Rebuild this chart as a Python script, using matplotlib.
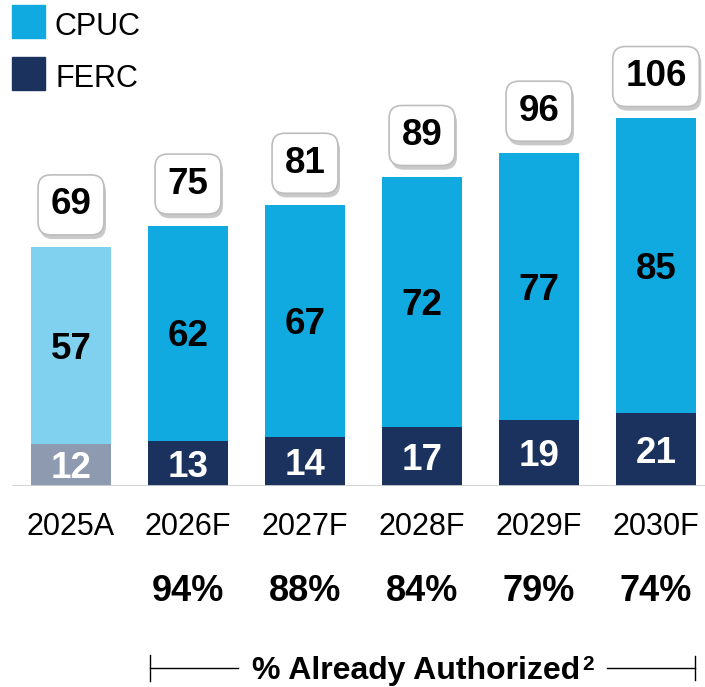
import matplotlib
matplotlib.use("Agg")
import matplotlib.pyplot as plt
import matplotlib.transforms as mtransforms
import matplotlib.patheffects as pe
from matplotlib.patches import Rectangle

plt.rcParams['font.family'] = ['Liberation Sans', 'DejaVu Sans']

years = ["2025A", "2026F", "2027F", "2028F", "2029F", "2030F"]
ferc = [12, 13, 14, 17, 19, 21]
cpuc = [57, 62, 67, 72, 77, 85]
totals = [69, 75, 81, 89, 96, 106]
authorized = ["", "94%", "88%", "84%", "79%", "74%"]

cpuc_colors = ["#80D1EF"] + ["#10A9E0"] * 5
ferc_colors = ["#8E9AB0"] + ["#1B325E"] * 5

W, H = 705, 687
PX = 100 / 72.0  # pixels per point


def cap_off(fs):
    # points from visual centre of digits/caps down to baseline
    return 0.358 * fs


fig = plt.figure(figsize=(W / 100, H / 100), dpi=100)
base_px = 486
ax = fig.add_axes([0, (H - base_px) / H, 1, base_px / H])
x = list(range(len(years)))
ax.set_xlim((0 - 71) / 117, (W - 71) / 117)
ax.set_ylim(0, base_px / 3.47)
ax.axis('off')

bw = 80 / 117
ax.bar(x, ferc, width=bw, color=ferc_colors, zorder=2)
ax.bar(x, cpuc, width=bw, bottom=ferc, color=cpuc_colors, zorder=2)
ax.axhline(0, xmin=13 / W, xmax=1, color="#D0D0D0", lw=2, zorder=3)

fs_in = 26.5
for i in x:
    ax.annotate(str(ferc[i]), (i, ferc[i] / 2), xytext=(0, -cap_off(fs_in)),
                textcoords='offset points', ha='center', va='baseline',
                fontsize=fs_in, fontweight='bold', color='white', zorder=4)
    ax.annotate(str(cpuc[i]), (i, ferc[i] + cpuc[i] / 2), xytext=(0, -cap_off(fs_in)),
                textcoords='offset points', ha='center', va='baseline',
                fontsize=fs_in, fontweight='bold', color='black', zorder=4)
    t = ax.annotate(str(totals[i]), (i, totals[i]), xytext=(0, 30),
                    textcoords='offset points', ha='center', va='center',
                    fontsize=fs_in, fontweight='bold', color='black',
                    bbox=dict(boxstyle='round,pad=0.34,rounding_size=0.35',
                              fc='white', ec='#BDBDBD', lw=1.2), zorder=5)
    t.get_bbox_patch().set_path_effects([
        pe.SimplePatchShadow(offset=(1.5, -3), shadow_rgbFace='#888888', alpha=0.45),
        pe.Normal()])

trans = mtransforms.blended_transform_factory(ax.transData, fig.transFigure)
for i in x:
    ax.annotate(years[i], (i, 1 - 524 / H), xycoords=trans,
                xytext=(0, -cap_off(22)), textcoords='offset points',
                ha='center', va='baseline', fontsize=22, color='black')
    if authorized[i]:
        ax.annotate(authorized[i], (i, 1 - 588 / H), xycoords=trans,
                    xytext=(0, -cap_off(26)), textcoords='offset points',
                    ha='center', va='baseline', fontsize=26, fontweight='bold',
                    color='black')

# legend
for (lbl, col, ytop) in [("CPUC", "#10A9E0", 5), ("FERC", "#1B325E", 57)]:
    fig.patches.append(Rectangle((12 / W, 1 - (ytop + 33) / H), 33 / W, 33 / H,
                                 transform=fig.transFigure, color=col))
    cy = ytop + 19
    fig.text(55 / W, 1 - (cy + cap_off(22) * PX) / H, lbl, ha='left', va='baseline',
             fontsize=22, color='black')

# bracket
by = 1 - 668 / H
lk = dict(color='black', lw=1)
fig.add_artist(plt.Line2D([150 / W, 238 / W], [by, by], **lk))
fig.add_artist(plt.Line2D([607 / W, 695 / W], [by, by], **lk))
fig.add_artist(plt.Line2D([150 / W, 150 / W], [by - 13 / H, by + 13 / H], **lk))
fig.add_artist(plt.Line2D([695 / W, 695 / W], [by - 12 / H, by + 12 / H], **lk))
base_y = 1 - (668 + cap_off(23) * PX) / H
fig.text(252 / W, base_y, "% Already Authorized", ha='left', va='baseline',
         fontsize=23, fontweight='bold', color='black')
fig.text(582 / W, base_y + 9 / H, "2", ha='left', va='baseline',
         fontsize=15, fontweight='bold', color='black')

fig.savefig("out.png", dpi=100)
